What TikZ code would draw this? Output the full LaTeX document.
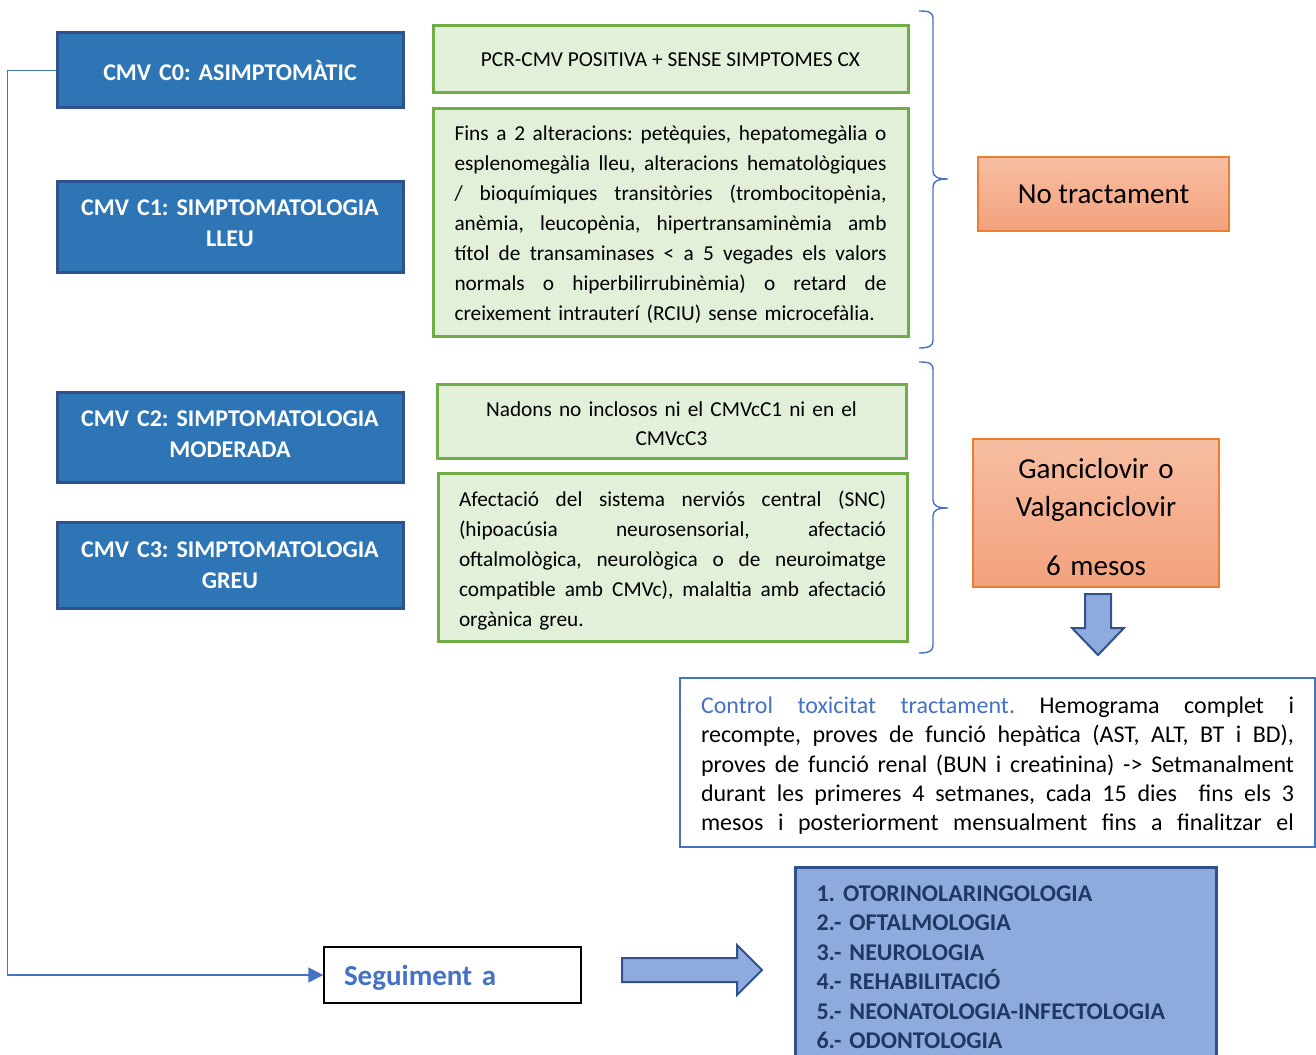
\documentclass[tikz,border=0pt]{standalone}
\usepackage{fontspec}
\setmainfont{Carlito}
\usetikzlibrary{arrows.meta}
\definecolor{boxblue}{HTML}{2E75B6}
\definecolor{edgeblue}{HTML}{2F528F}
\definecolor{gfill}{HTML}{E2F0D9}
\definecolor{gedge}{HTML}{70AD47}
\definecolor{oedge}{HTML}{ED7D31}
\definecolor{otop}{HTML}{F7BEA2}
\definecolor{obot}{HTML}{F3A17D}
\definecolor{accent}{HTML}{4472C4}
\definecolor{lblue}{HTML}{8FAADC}
\definecolor{navy}{HTML}{1F3864}
\frenchspacing
\newcommand{\gfont}{\fontsize{10.65}{15}\selectfont}
\newcommand{\jl}[2]{\makebox[#1][s]{\spaceskip=\fontdimen2\font plus 1fil\relax #2}\\}
\newcommand{\topstrut}[1]{\rule{0pt}{#1}}
\newcommand{\botstrut}[1]{\rule[-#1]{0pt}{0pt}}
\begin{document}
\begin{tikzpicture}[x=0.5pt,y=-0.5pt,
  catbox/.style={draw=edgeblue,line width=1.5pt,fill=boxblue,text=white,
    font=\bfseries\fontsize{12}{15.5}\selectfont,align=center,text width=173pt,inner sep=0pt},
  greenbox/.style={draw=gedge,line width=1.5pt,fill=gfill,font=\gfont,inner sep=0pt},
  orangebox/.style={draw=oedge,line width=0.75pt,top color=otop,bottom color=obot,
    font=\fontsize{14.5}{19}\selectfont,align=center,inner sep=0pt},
  conn/.style={draw=accent,line width=0.75pt},
  bracepath/.style={draw=accent,line width=0.7pt},
  blockarrow/.style={fill=lblue,draw=edgeblue,line width=1pt,line join=miter}]
\useasboundingbox (0,0) rectangle (1316,1054);
\clip (0,0) rectangle (1316,1054);

% category boxes
\node[catbox,minimum height=37.5pt] (c0) at (230,70.5) {CMV C0: ASIMPTOMÀTIC};
\node[catbox,minimum height=45.5pt] (c1) at (230,226.5) {CMV C1: SIMPTOMATOLOGIA\\LLEU\botstrut{3pt}};
\node[catbox,minimum height=45pt] (c2) at (230,437) {CMV C2: SIMPTOMATOLOGIA\\MODERADA\botstrut{3pt}};
\node[catbox,minimum height=43pt] (c3) at (230,565) {CMV C3: SIMPTOMATOLOGIA\\GREU};

% green description boxes
\node[greenbox,minimum width=237.5pt,minimum height=33.5pt] (g1) at (670.5,59.5)
  {PCR-CMV POSITIVA + SENSE SIMPTOMES CX};
\node[greenbox,text width=216pt,inner xsep=10.75pt,minimum height=113.5pt,align=left] (g2) at (670.5,222.5)
  {\jl{216pt}{\topstrut{9.6pt}Fins a 2 alteracions: petèquies, hepatomegàlia o}%
   \jl{216pt}{esplenomegàlia lleu, alteracions hematològiques}%
   \jl{216pt}{/ bioquímiques transitòries (trombocitopènia,}%
   \jl{216pt}{anèmia, leucopènia, hipertransaminèmia amb}%
   \jl{216pt}{títol de transaminases < a 5 vegades els valors}%
   \jl{216pt}{normals o hiperbilirrubinèmia) o retard de}%
   creixement intrauterí (RCIU) sense microcefàlia.};
\node[greenbox,text width=234.5pt,minimum height=37pt,align=center,font=\fontsize{10.65}{14.5}\selectfont] (g3) at (671.5,421)
  {\topstrut{9.6pt}Nadons no inclosos ni el CMVcC1 ni en el\\CMVcC3};
\node[greenbox,text width=213.5pt,inner xsep=10.5pt,minimum height=84pt,align=left] (g4) at (672.5,557)
  {\jl{213.5pt}{\topstrut{11pt}Afectació del sistema nerviós central (SNC)}%
   \jl{213.5pt}{(hipoacúsia neurosensorial, afectació}%
   \jl{213.5pt}{oftalmològica, neurològica o de neuroimatge}%
   \jl{213.5pt}{compatible amb CMVc), malaltia amb afectació}%
   orgànica greu.};

% braces
\coordinate (b1t) at (919,11);
\coordinate (b1m) at (948,179);
\coordinate (b1b) at (919,348);
\draw[bracepath] (b1t) .. controls (929,11) and (933,12) .. (933,19) -- (933,171)
  .. controls (933,177) and (938,179) .. (b1m)
  .. controls (938,179) and (933,181) .. (933,187) -- (933,340)
  .. controls (933,346) and (929,348) .. (b1b);
\coordinate (b2t) at (919,362);
\coordinate (b2m) at (948,508);
\coordinate (b2b) at (919,653);
\draw[bracepath] (b2t) .. controls (929,362) and (933,363) .. (933,370) -- (933,500)
  .. controls (933,506) and (938,508) .. (b2m)
  .. controls (938,508) and (933,510) .. (933,516) -- (933,645)
  .. controls (933,651) and (929,653) .. (b2b);

% treatment boxes
\node[orangebox,minimum width=125.5pt,minimum height=37pt] (o1) at (1103.5,194) {No tractament};
\node[orangebox,text width=123pt,minimum height=74pt] (o2) at (1096,513)
  {\topstrut{14.4pt}Ganciclovir o\\Valganciclovir\\[10.5pt]6 mesos};

% down block arrow
\draw[blockarrow] (1085,594) -- (1111,594) -- (1111,628) -- (1124,628) -- (1098,655)
  -- (1072,628) -- (1085,628) -- cycle;

% control box
\node[draw=accent,line width=1.2pt,fill=white,text width=296.5pt,inner xsep=10.5pt,inner ysep=0pt,
  minimum height=84.5pt,align=left,font=\fontsize{12}{14.65}\selectfont] (ctrl) at (997.5,762.5)
  {\jl{296.5pt}{\topstrut{11.6pt}{\color{accent}Control toxicitat tractament.} Hemograma complet i}%
   \jl{296.5pt}{recompte, proves de funció hepàtica (AST, ALT, BT i BD),}%
   \jl{296.5pt}{proves de funció renal (BUN i creatinina) -> Setmanalment}%
   \jl{296.5pt}{durant les primeres 4 setmanes, cada 15 dies\ \ fins els 3}%
   \makebox[296.5pt][s]{\spaceskip=\fontdimen2\font plus 1fil\relax mesos i posteriorment mensualment fins a finalitzar el}};

% follow-up
\node[draw=black,line width=0.75pt,fill=white,text width=108.5pt,inner xsep=10pt,inner ysep=0pt,
  minimum height=28pt,align=left,text=accent,font=\bfseries\fontsize{14.5}{17}\selectfont] (seg) at (452.5,975)
  {\topstrut{13.6pt}Seguiment a\botstrut{3.6pt}};

\draw[conn,-{Triangle[length=7.5pt,width=7.5pt]}] (c0.west) -- ++(-48,0) |- (seg.west);

% right block arrow
\draw[blockarrow] (622,958) -- (737,958) -- (737,945) -- (762,970) -- (737,995)
  -- (737,982) -- (622,982) -- cycle;

% specialties box
\node[anchor=north west,draw=edgeblue,line width=1.5pt,fill=lblue,text width=189.5pt,
  inner xsep=10.5pt,inner ysep=9pt,align=left,text=navy,
  font=\bfseries\fontsize{12}{14.75}\selectfont] (spec) at (794,866)
  {1. OTORINOLARINGOLOGIA\\
   2.- OFTALMOLOGIA\\
   3.- NEUROLOGIA\\
   4.- REHABILITACIÓ\\
   5.- NEONATOLOGIA-INFECTOLOGIA\\
   6.- ODONTOLOGIA\\[20pt]};
\end{tikzpicture}
\end{document}
